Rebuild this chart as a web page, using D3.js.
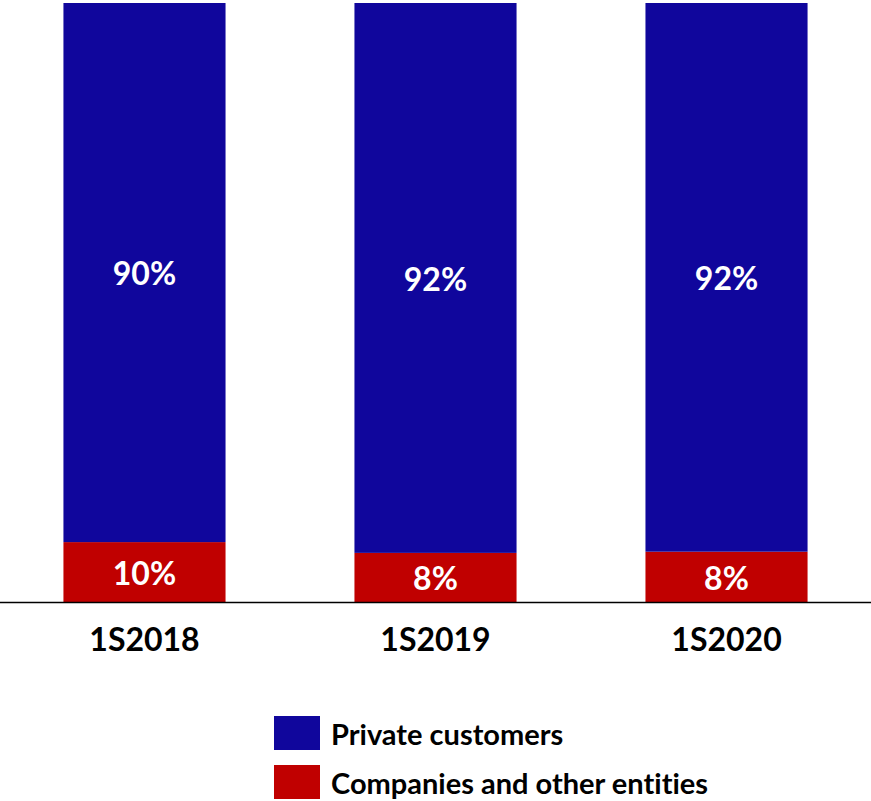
<!DOCTYPE html>
<html>
<head>
<meta charset="utf-8">
<script src="https://cdn.jsdelivr.net/npm/d3@7"></script>
<style>
  body { margin: 0; background: #fff; }
  text { font-family: Lato, "Open Sans", sans-serif; font-weight: bold; font-variant-ligatures: none; }
</style>
</head>
<body>
<div id="chart-area"></div>
<script>
const categories = ['1S2018', '1S2019', '1S2020']
const companies = [10, 8.2, 8.4]
const privateCustomers = [90, 91.8, 91.6]
const seriesNames = ['Private customers', 'Companies and other entities']

const width = 871
const height = 801
const baseline = 602

const colors = { companies: '#c00000', private: '#10069c' }

const svg = d3.select('#chart-area').append('svg')
    .attr('width', width)
    .attr('height', height)

const xScale = d3.scaleBand()
    .domain(categories)
    .range([0, width])
    .paddingInner(0.443)
    .paddingOuter(0.218)

const yScale = d3.scaleLinear()
    .domain([0, 100])
    .range([baseline, 3])

// stack rows: companies at the bottom, private customers on top
const rows = categories.map((c, i) => ({ cat: c, companies: companies[i], private: privateCustomers[i] }))
const stacked = d3.stack().keys(['companies', 'private'])(rows)

const layers = svg.selectAll('g.layer')
    .data(stacked)
    .enter().append('g')
    .attr('class', 'layer')
    .attr('fill', d => colors[d.key])

layers.selectAll('rect')
    .data(d => d)
    .enter().append('rect')
    .attr('x', d => xScale(d.data.cat))
    .attr('width', xScale.bandwidth())
    .attr('y', d => yScale(d[1]))
    .attr('height', d => yScale(d[0]) - yScale(d[1]))

layers.selectAll('text')
    .data(d => d.map(s => ({ s, key: d.key })))
    .enter().append('text')
    .attr('x', d => xScale(d.s.data.cat) + xScale.bandwidth() / 2)
    .attr('y', d => (yScale(d.s[0]) + yScale(d.s[1])) / 2)
    .attr('dy', '0.4em')
    .attr('text-anchor', 'middle')
    .attr('font-size', '32px')
    .attr('fill', '#fff')
    .text(d => Math.round(d.s.data[d.key]) + '%')

// x axis: plain line, no ticks
const xAxis = svg.append('g')
    .attr('transform', `translate(0, ${baseline})`)
    .call(d3.axisBottom(xScale).tickSize(0).tickPadding(26))
xAxis.select('.domain').attr('d', `M0,0.5H${width}`).attr('stroke', '#000').attr('stroke-width', 1.5)
xAxis.selectAll('text')
    .attr('font-size', '32px')
    .attr('font-family', 'Lato, sans-serif')
    .attr('font-weight', 'bold')
    .attr('fill', '#000')

// legend
const legend = svg.append('g').attr('transform', 'translate(274, 716)')
const legendColors = [colors.private, colors.companies]
seriesNames.forEach((name, i) => {
    legend.append('rect')
        .attr('x', 0)
        .attr('y', i * 49)
        .attr('width', 46)
        .attr('height', 34)
        .attr('fill', legendColors[i])
    legend.append('text')
        .attr('x', 57)
        .attr('y', i * 49 + 29)
        .attr('font-size', '29px')
        .attr('fill', '#000')
        .text(name)
})
</script>
</body>
</html>
